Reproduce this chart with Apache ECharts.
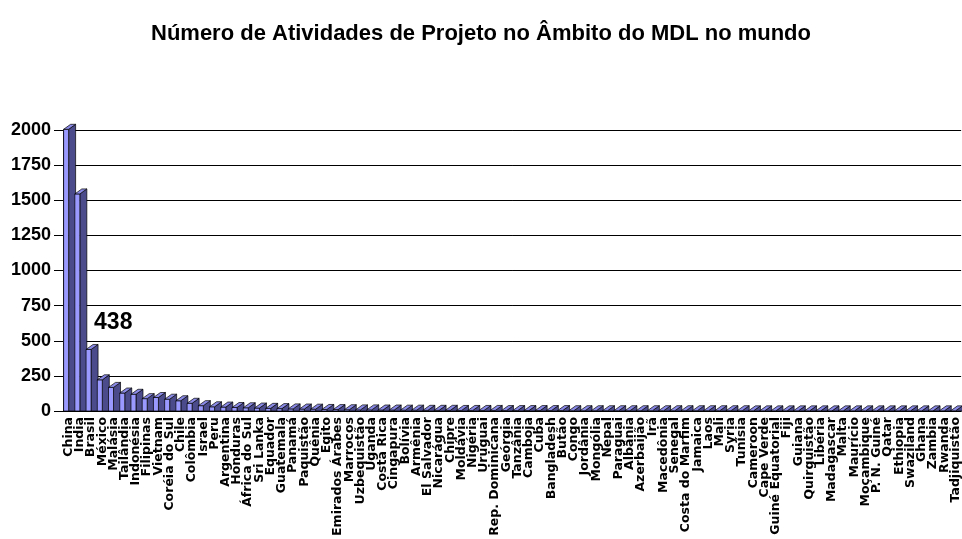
<!DOCTYPE html>
<html>
<head>
<meta charset="utf-8">
<script src="https://cdn.jsdelivr.net/npm/echarts@6/dist/echarts.min.js"></script>
<style>html,body{margin:0;padding:0;background:#fff}#c{width:962px;height:539px}</style>
</head>
<body>
<div id="c"></div>
<script>
var titleText = 'Número de Atividades de Projeto no Âmbito do MDL no mundo';
var categories = ['China','India','Brasil','México','Malásia','Tailândia','Indonésia','Filipinas','Vietnam','Coréia do Sul','Chile','Colômbia','Israel','Peru','Argentina','Honduras','África do Sul','Sri Lanka','Equador','Guatemala','Panamá','Paquistão','Quênia','Egito','Emirados Árabes','Marrocos','Uzbequistão','Uganda','Costa Rica','Cingapura','Bolívia','Armênia','El Salvador','Nicarágua','Chipre','Moldávia','Nigéria','Uruguai','Rep. Dominicana','Geórgia','Tanzânia','Camboja','Cuba','Bangladesh','Butão','Congo','Jordânia','Mongólia','Nepal','Paraguai','Albânia','Azerbaijão','Irã','Macedônia','Senegal','Costa do Marfim','Jamaica','Laos','Mali','Syria','Tunísia','Cameroon','Cape Verde','Guiné Equatorial','Fiji','Guiana','Quirguistão','Libéria','Madagascar','Malta','Maurício','Moçambique','P. N. Guiné','Qatar','Ethiopia','Swaziland','Ghana','Zambia','Rwanda','Tadjiquistão'];
var values = [2005,1545,438,222,168,128,119,88,96,84,73,55,38,30,28,25,23,21,19,17,15,14,13,11,10,9,8,8,7,7,6,6,5,5,5,4,4,4,4,3,3,3,3,3,3,2,2,2,2,2,2,2,2,2,2,2,2,2,2,2,2,1,1,1,1,1,1,1,1,1,1,1,1,1,1,1,1,1,1,1];
var yTicks = [0,250,500,750,1000,1250,1500,1750,2000];
var labeledIndex = 2;

var chart = echarts.init(document.getElementById('c'), null, {renderer:'canvas'});
var data = values.map(function(v,i){return [i,v];});
chart.setOption({
  animation:false,
  title:{text:titleText,left:'center',top:18,textStyle:{fontFamily:'Liberation Sans, Arial',fontWeight:'bold',fontSize:22,color:'#000'}},
  grid:{left:63,right:0,top:130,bottom:128,containLabel:false},
  xAxis:{type:'category',data:categories,
    axisLine:{lineStyle:{color:'#000',width:1}},axisTick:{show:false},
    axisLabel:{interval:0,rotate:90,fontSize:12.5,fontWeight:'bold',fontFamily:'DejaVu Sans',color:'#000',margin:6}},
  yAxis:{type:'value',min:yTicks[0],max:yTicks[yTicks.length-1],interval:250,
    axisLine:{show:true,lineStyle:{color:'#000'}},
    axisTick:{show:true,length:9,lineStyle:{color:'#000'}},
    axisLabel:{fontFamily:'Liberation Sans, Arial',fontWeight:'bold',fontSize:18,color:'#000',margin:12,formatter:function(v){return String(v);}},
    splitLine:{show:true,lineStyle:{color:'#000',width:1}}},
  series:[{
    type:'custom',
    data:data,
    renderItem:function(params,api){
      var i=api.value(0), v=api.value(1);
      var top=api.coord([i,v]);
      var base=api.coord([i,0]);
      var cx=top[0];
      var x0=cx-5, xf=cx, xs=cx+7, dy=5;
      var yT=top[1], yB=base[1];
      var children=[
        {type:'polygon',shape:{points:[[xf,yT],[xs,yT-dy],[xs,yB],[xf,yB]]},style:{fill:'#4b4b8c',stroke:'#000',lineWidth:0.7}},
        {type:'rect',shape:{x:x0,y:yT,width:xf-x0,height:yB-yT},style:{fill:'#9999ff',stroke:'#000',lineWidth:0.7}},
        {type:'polygon',shape:{points:[[x0,yT],[xf,yT],[xs,yT-dy],[x0+7,yT-dy]]},style:{fill:'#8a8ae6',stroke:'#000',lineWidth:0.7}}
      ];
      if(params.dataIndex===labeledIndex){
        children.push({type:'text',style:{text:String(v),x:cx+3,y:yT-27,fill:'#000',font:'bold 23px "Liberation Sans", Arial',textAlign:'left',textVerticalAlign:'middle'}});
      }
      return {type:'group',children:children};
    }
  }]
});
</script>
</body>
</html>
